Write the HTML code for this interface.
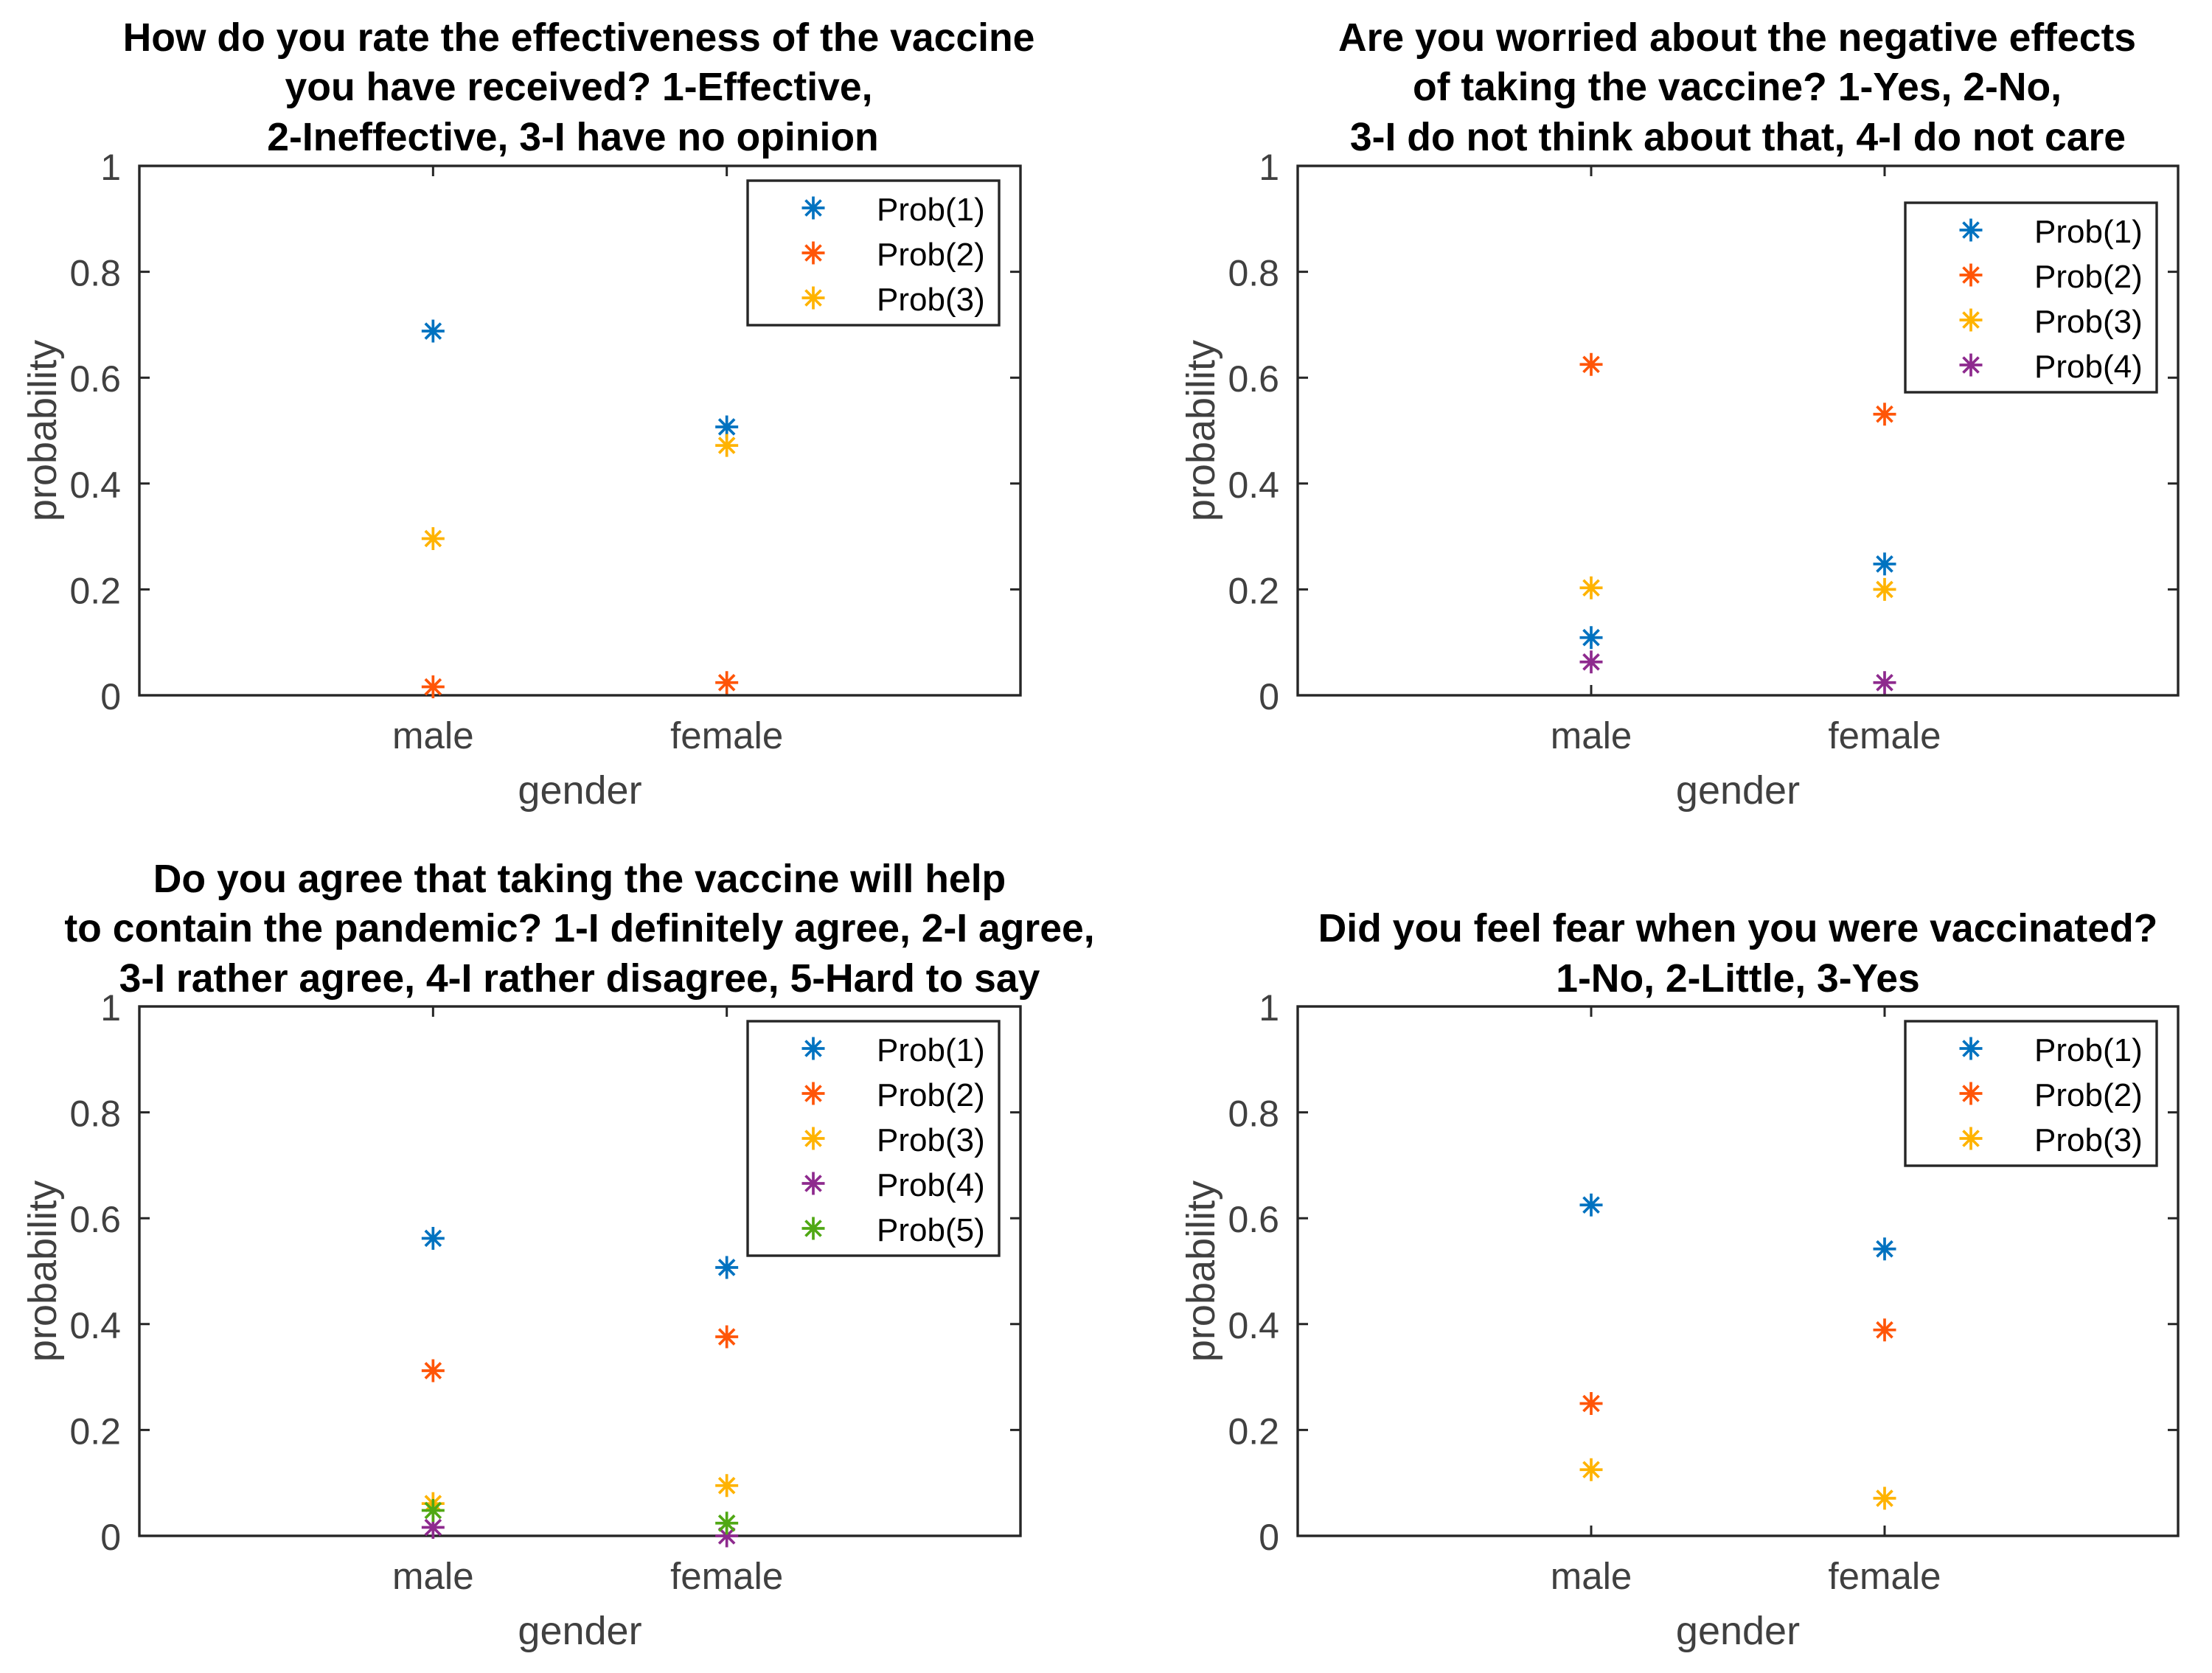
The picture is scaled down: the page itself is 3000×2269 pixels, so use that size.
<!DOCTYPE html>
<html lang="en">
<head>
<meta charset="utf-8">
<title>Vaccine survey probabilities by gender</title>
<style>
  html, body { margin: 0; padding: 0; background: #fff; }
  svg { display: block; font-family: "Liberation Sans", Arial, sans-serif; }
  .title { font-size: 53.5px; font-weight: 700; fill: #000; text-anchor: middle; }
  .tick { font-size: 50px; fill: #404040; }
  .label { font-size: 54px; fill: #404040; text-anchor: middle; }
  .legend-text { font-size: 44px; fill: #000; }
</style>
</head>
<body>
<svg id="figure" xmlns="http://www.w3.org/2000/svg" width="3000" height="2269" viewBox="0 0 3000 2269">
  <rect x="0" y="0" width="3000" height="2269" fill="#fff"/>
  <g class="title">
    <text x="785" y="69">How do you rate the effectiveness of the vaccine</text>
    <text x="785" y="136">you have received? 1-Effective,</text>
    <text x="777" y="204">2-Ineffective, 3-I have no opinion</text>
  </g>
  <g class="title">
    <text x="2356" y="69">Are you worried about the negative effects</text>
    <text x="2356" y="136">of taking the vaccine? 1-Yes, 2-No,</text>
    <text x="2357" y="204">3-I do not think about that, 4-I do not care</text>
  </g>
  <g class="title">
    <text x="786" y="1210">Do you agree that taking the vaccine will help</text>
    <text x="786" y="1277">to contain the pandemic? 1-I definitely agree, 2-I agree,</text>
    <text x="786" y="1345">3-I rather agree, 4-I rather disagree, 5-Hard to say</text>
  </g>
  <g class="title">
    <text x="2357" y="1277">Did you feel fear when you were vaccinated?</text>
    <text x="2357" y="1345">1-No, 2-Little, 3-Yes</text>
  </g>
</svg>
<script>
// ---- chart data ----
const genderCategories = ['male', 'female'];
const yTickValues = [0, 0.2, 0.4, 0.6, 0.8, 1];
const yTickLabels = ['0', '0.2', '0.4', '0.6', '0.8', '1'];
const seriesNames = ['Prob(1)', 'Prob(2)', 'Prob(3)', 'Prob(4)', 'Prob(5)'];
const seriesColors = ['#0072C0', '#FF5508', '#FFB300', '#8E2A8E', '#50A814'];

// each inner array: one series, [male, female]
const effectivenessValues = [[0.688, 0.507], [0.016, 0.024], [0.296, 0.472]];
const worryValues = [[0.109, 0.248], [0.625, 0.531], [0.203, 0.200], [0.063, 0.024]];
const pandemicValues = [[0.562, 0.507], [0.312, 0.376], [0.061, 0.095], [0.016, 0.000], [0.048, 0.024]];
const fearValues = [[0.625, 0.542], [0.250, 0.389], [0.125, 0.071]];

// ---- drawing ----
const NS = 'http://www.w3.org/2000/svg';
const figure = document.getElementById('figure');

function make(tag, attrs, parent) {
  const node = document.createElementNS(NS, tag);
  for (const key in attrs) node.setAttribute(key, attrs[key]);
  parent.appendChild(node);
  return node;
}

function drawStar(parent, cx, cy, color) {
  const star = make('g', { stroke: color, 'stroke-width': 3.7, fill: 'none' }, parent);
  
  
  const r = 15.5;
  const d = 10.5;
  make('path', {
    d: `M${cx - r} ${cy}H${cx + r}M${cx} ${cy - r}V${cy + r}M${cx - d} ${cy - d}L${cx + d} ${cy + d}M${cx - d} ${cy + d}L${cx + d} ${cy - d}`
  }, star);
  return star;
}

function drawPanel(name, values, box, legendBox) {
  const group = make('g', {}, figure);
  
  

  const xScale = v => box.left + (v / 3) * (box.right - box.left);
  const yScale = v => box.bottom - v * (box.bottom - box.top);
  const ink = '#262626';
  const tickLength = 14;
  const lineWidth = 3.4;

  const frame = make('rect', {
    x: box.left, y: box.top, width: box.right - box.left, height: box.bottom - box.top,
    fill: 'none', stroke: ink, 'stroke-width': lineWidth
  }, group);
  
  

  yTickValues.forEach((value, i) => {
    const y = yScale(value);
    const tickMarks = make('path', {
      d: `M${box.left} ${y}h${tickLength}M${box.right} ${y}h${-tickLength}`,
      stroke: ink, 'stroke-width': 3, fill: 'none'
    }, group);
    
    
    const tickText = make('text', { x: box.left - 25, y: y + 19, class: 'tick', 'text-anchor': 'end' }, group);
    
    
    tickText.textContent = yTickLabels[i];
  });

  genderCategories.forEach((category, i) => {
    const x = xScale(i + 1);
    const tickMarks = make('path', {
      d: `M${x} ${box.bottom}v${-tickLength}M${x} ${box.top}v${tickLength}`,
      stroke: ink, 'stroke-width': 3, fill: 'none'
    }, group);
    
    
    const tickText = make('text', { x: x, y: box.bottom + 72, class: 'tick', 'text-anchor': 'middle' }, group);
    
    
    tickText.style.fontSize = '51px';
    tickText.textContent = category;
  });

  const xTitle = make('text', { x: (box.left + box.right) / 2, y: box.bottom + 147, class: 'label' }, group);
  
  
  xTitle.textContent = 'gender';

  const yMid = (box.top + box.bottom) / 2;
  const yTitleX = box.left - 113;
  const yTitle = make('text', { x: yTitleX, y: yMid, class: 'label', transform: `rotate(-90 ${yTitleX} ${yMid})` }, group);
  
  
  yTitle.textContent = 'probability';

  values.forEach((series, s) => {
    const seriesGroup = make('g', {}, group);
    
    
    series.forEach((value, c) => {
      drawStar(seriesGroup, xScale(c + 1), yScale(value), seriesColors[s]);
    });
  });

  const legend = make('g', {}, group);
  
  
  const legendFrame = make('rect', {
    x: legendBox.left, y: legendBox.top, width: 341, height: 13 + 61 * values.length,
    fill: '#fff', stroke: ink, 'stroke-width': lineWidth
  }, legend);
  
  
  values.forEach((series, s) => {
    const rowY = legendBox.top + 37 + 61 * s;
    drawStar(legend, legendBox.left + 89, rowY, seriesColors[s]);
    const entry = make('text', { x: legendBox.left + 175, y: rowY + 17, class: 'legend-text' }, legend);
    
    
    entry.textContent = seriesNames[s];
  });
}

drawPanel('panel-effectiveness', effectivenessValues,
  { left: 189, right: 1384, top: 225, bottom: 943 }, { left: 1014, top: 245 });
drawPanel('panel-worry', worryValues,
  { left: 1760, right: 2954, top: 225, bottom: 943 }, { left: 2584, top: 275 });
drawPanel('panel-pandemic', pandemicValues,
  { left: 189, right: 1384, top: 1365, bottom: 2083 }, { left: 1014, top: 1385 });
drawPanel('panel-fear', fearValues,
  { left: 1760, right: 2954, top: 1365, bottom: 2083 }, { left: 2584, top: 1385 });
</script>
</body>
</html>
